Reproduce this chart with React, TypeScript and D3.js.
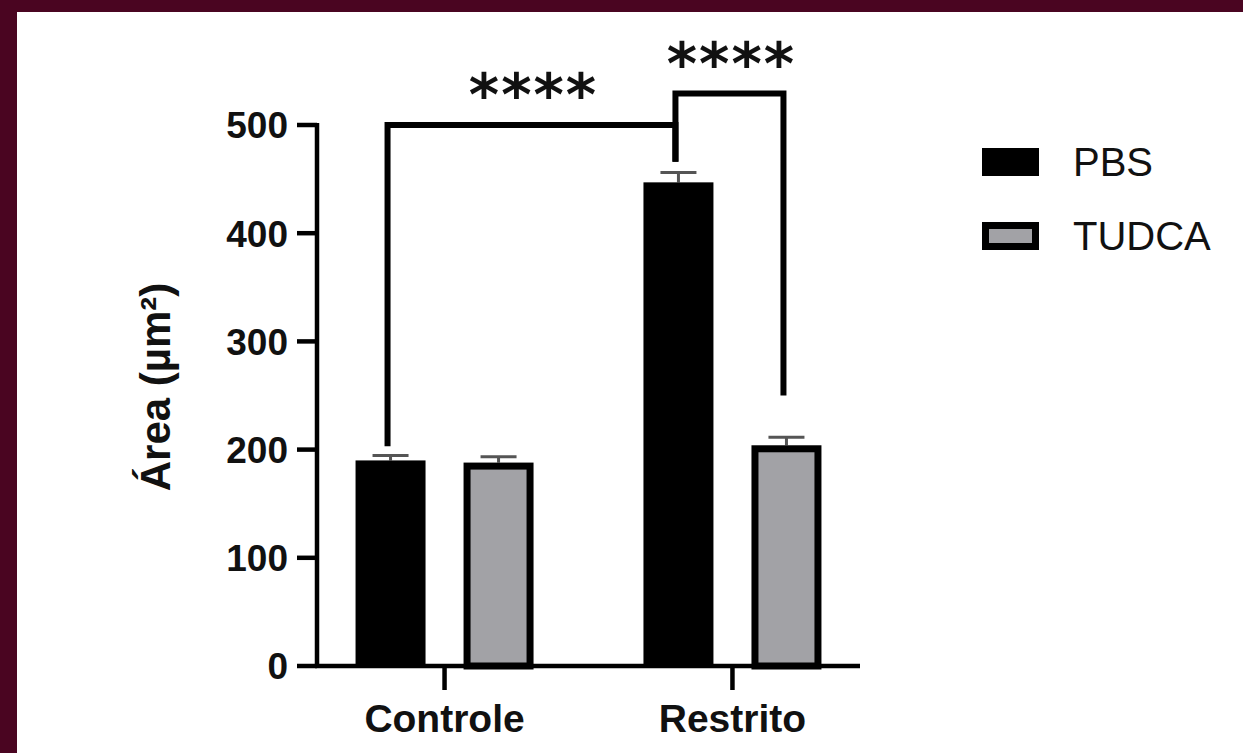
import React from "react";
import * as d3 from "d3";

// values
const groups = ["Controle", "Restrito"];
const series = ["PBS", "TUDCA"];
const pbsMeans = [190, 447];
const pbsErrors = [4.5, 9];
const tudcaMeans = [188, 204];
const tudcaErrors = [5.5, 7.5];
const yTicks = [0, 100, 200, 300, 400, 500];

// significance brackets: [group, series] at each end, height of the bar, leg ends, label
const bracketFrom = [["Controle", "PBS"], ["Restrito", "PBS"]];
const bracketTo = [["Restrito", "PBS"], ["Restrito", "TUDCA"]];
const bracketTop = [500, 529];
const bracketLeftEnd = [203, 466];
const bracketRightEnd = [466, 250];
const bracketLabels = ["****", "****"];

const W = 1243;
const H = 753;
const font = "'Liberation Sans', Arial, sans-serif";
const fillFor: Record<string, string> = { PBS: "#000", TUDCA: "#a2a2a6" };

const App = () => {
  const y = d3.scaleLinear().domain([0, 500]).range([666, 125]);
  const x0 = d3.scalePoint().domain(groups).range([317, 860]).padding(0.443);
  const x1 = d3.scaleBand().domain(series).range([-89, 89]).paddingInner(0.352);
  const bw = x1.bandwidth();

  const means: Record<string, number[]> = { PBS: pbsMeans, TUDCA: tudcaMeans };
  const errs: Record<string, number[]> = { PBS: pbsErrors, TUDCA: tudcaErrors };
  const cx = (g: string, s: string) => (x0(g) as number) + (x1(s) as number) + bw / 2;

  const sw = 7; // outline of the grey bars
  const axisW = 4.5;

  return (
    <svg width={W} height={H} style={{ position: "absolute", left: 0, top: 0 }}>
      <rect x={0} y={0} width={W} height={H} fill="#4a0521" />
      <rect x={17} y={12} width={W - 17} height={H - 12} fill="#fff" />

      {/* bars */}
      {series.map((s) =>
        groups.map((g, i) => {
          const v = means[s][i];
          const left = (x0(g) as number) + (x1(s) as number);
          const top = y(v);
          const c = cx(g, s);
          const e = y(v + errs[s][i]);
          return (
            <g key={s + g}>
              <line x1={c} x2={c} y1={top} y2={e} stroke="#555" strokeWidth={3} />
              <line x1={c - 18} x2={c + 18} y1={e} y2={e} stroke="#555" strokeWidth={3} />
              {s === "PBS" ? (
                <rect x={left} y={top} width={bw} height={y(0) - top} fill={fillFor[s]} />
              ) : (
                <rect
                  x={left + sw / 2}
                  y={top + sw / 2}
                  width={bw - sw}
                  height={y(0) - top - sw / 2}
                  fill={fillFor[s]}
                  stroke="#000"
                  strokeWidth={sw}
                />
              )}
            </g>
          );
        })
      )}

      {/* y axis */}
      <line x1={317} x2={317} y1={y(500) - 2} y2={y(0)} stroke="#000" strokeWidth={axisW} />
      {yTicks.map((t) => (
        <g key={t}>
          <line x1={297} x2={317} y1={y(t)} y2={y(t)} stroke="#000" strokeWidth={axisW} />
          <text
            x={288}
            y={y(t)}
            dy="0.36em"
            textAnchor="end"
            fontFamily={font}
            fontWeight="bold"
            fontSize={37}
            fill="#111"
          >
            {t}
          </text>
        </g>
      ))}
      <text
        transform={`translate(170,387) rotate(-90)`}
        textAnchor="middle"
        fontFamily={font}
        fontWeight="bold"
        fontSize={42}
        fill="#111"
      >
        Área (µm²)
      </text>

      {/* x axis */}
      <line x1={315} x2={860} y1={y(0)} y2={y(0)} stroke="#000" strokeWidth={axisW} />
      {groups.map((g) => (
        <g key={g}>
          <line x1={x0(g)} x2={x0(g)} y1={y(0)} y2={y(0) + 24} stroke="#000" strokeWidth={axisW} />
          <text
            x={x0(g)}
            y={732}
            textAnchor="middle"
            fontFamily={font}
            fontWeight="bold"
            fontSize={39}
            fill="#111"
          >
            {g}
          </text>
        </g>
      ))}

      {/* significance brackets */}
      {bracketTop.map((b, i) => {
        const xa = cx(bracketFrom[i][0], bracketFrom[i][1]) - 3;
        const xb = cx(bracketTo[i][0], bracketTo[i][1]) - 3;
        const path = d3.path();
        path.moveTo(xa, y(bracketLeftEnd[i]));
        path.lineTo(xa, y(b));
        path.lineTo(xb, y(b));
        path.lineTo(xb, y(bracketRightEnd[i]));
        return (
          <g key={i}>
            <path d={path.toString()} fill="none" stroke="#000" strokeWidth={6} strokeLinejoin="miter" />
            <text
              x={(xa + xb) / 2 + 2}
              y={y(b) - 10}
              textAnchor="middle"
              fontFamily="'DejaVu Sans', sans-serif"
              fontWeight="bold"
              fontSize={58}
              letterSpacing={2}
              fill="#111"
            >
              {bracketLabels[i]}
            </text>
          </g>
        );
      })}

      {/* legend */}
      {series.map((s, i) => (
        <g key={s} transform={`translate(982,${148 + i * 74})`}>
          {s === "PBS" ? (
            <rect x={0} y={0} width={57} height={28} fill="#000" />
          ) : (
            <rect x={3.5} y={3.5} width={50} height={21} fill={fillFor[s]} stroke="#000" strokeWidth={7} />
          )}
          <text x={91} y={28} fontFamily={font} fontSize={40} fill="#111">
            {s}
          </text>
        </g>
      ))}
    </svg>
  );
};

export default App;
